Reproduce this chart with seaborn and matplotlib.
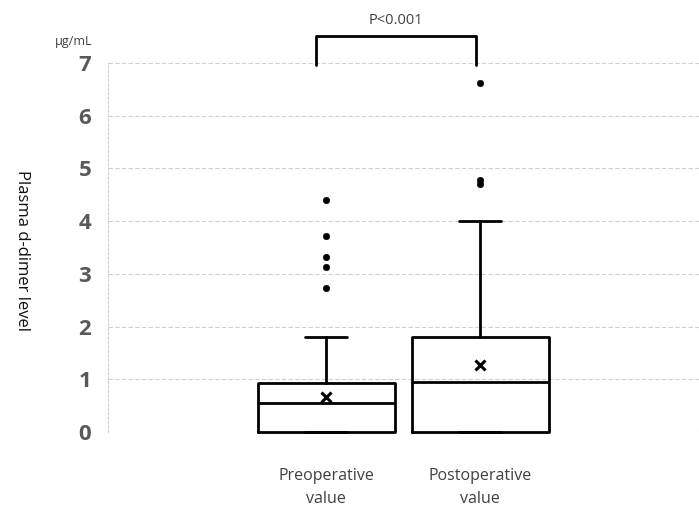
import numpy as np
import pandas as pd
import seaborn as sns
import matplotlib.pyplot as plt

# data
groups = ['Preoperative\nvalue', 'Postoperative\nvalue']
q1 = [0.0, 0.0]
median = [0.55, 0.95]
q3 = [0.93, 1.80]
whisker_low = [0.0, 0.0]
whisker_high = [1.80, 4.00]
means = [0.66, 1.27]
outliers_pre = [4.40, 3.72, 3.32, 3.13, 2.73]
outliers_post = [6.62, 4.78, 4.71]

sns.set_style('white')
plt.rcParams['font.family'] = ['Open Sans', 'DejaVu Sans']

fig = plt.figure(figsize=(6.99, 5.24), dpi=100)
ax = fig.add_axes([0.1545, 0.1756, 0.8455, 0.7042])

stats = []
for i, g in enumerate(groups):
    stats.append(dict(label=g, q1=q1[i], med=median[i], q3=q3[i],
                      whislo=whisker_low[i], whishi=whisker_high[i],
                      mean=means[i], fliers=[]))

lw = 2.0
ax.bxp(stats, positions=[0, 1], widths=0.89, capwidths=0.27,
       showmeans=True, showfliers=False, patch_artist=False,
       boxprops=dict(color='black', linewidth=lw),
       medianprops=dict(color='black', linewidth=lw),
       whiskerprops=dict(color='black', linewidth=lw),
       capprops=dict(color='black', linewidth=lw),
       meanprops=dict(marker='x', markeredgecolor='black', markersize=7,
                      markeredgewidth=2.2), zorder=3)
for ln in ax.lines:
    ln.set_clip_on(False)

fl = pd.DataFrame({'x': [0] * len(outliers_pre) + [1] * len(outliers_post),
                   'y': outliers_pre + outliers_post})
sns.scatterplot(data=fl, x='x', y='y', color='black', s=22,
                edgecolor='black', ax=ax, zorder=4)

ax.set_xlim(-1.416, 2.42)
ax.set_ylim(0, 7)
ax.set_yticks(range(0, 8))
ax.set_xticks([0, 1])
ax.set_xticklabels(groups, fontsize=11.5, color='#404040', linespacing=1.6)
ax.tick_params(axis='x', length=0, pad=26)
ax.tick_params(axis='y', length=0, pad=12, labelsize=16, labelcolor='#595959')
for t in ax.get_yticklabels():
    t.set_fontweight('bold')
ax.set_xlabel('')
ax.set_ylabel('')

ax.yaxis.grid(True, color='#cfcfcf', linestyle=(0, (4, 2)), linewidth=0.8)
ax.set_axisbelow(True)
for s in ['top', 'right', 'bottom']:
    ax.spines[s].set_visible(False)
ax.spines['left'].set_color('#cfcfcf')
ax.spines['left'].set_linestyle((0, (2, 2)))
ax.spines['left'].set_linewidth(0.8)

# significance bracket
ax.plot([-0.065, -0.065, 0.974, 0.974], [6.96, 7.51, 7.51, 6.96],
        color='black', linewidth=2, clip_on=False)
ax.text(0.455, 7.8, 'P<0.001', ha='center', va='center', fontsize=10.5,
        color='#404040')

fig.text(22 / 699, 1 - 250 / 524, 'Plasma d-dimer level', rotation=270,
         ha='center', va='center', fontsize=12, color='#111111')
fig.text(74 / 699, 1 - 41 / 524, 'µg/mL', ha='center', va='center',
         fontsize=9, color='#404040')

fig.savefig('out.png', dpi=100)
